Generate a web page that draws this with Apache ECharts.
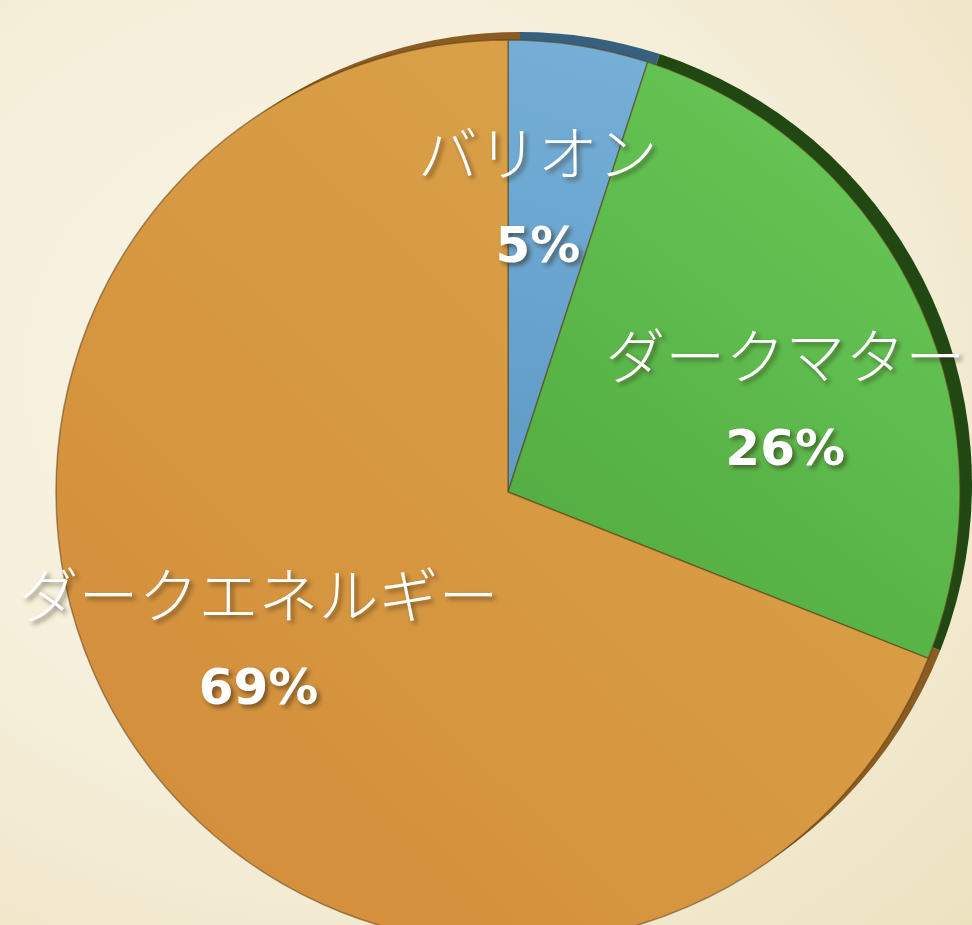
<!DOCTYPE html>
<html>
<head>
<meta charset="utf-8">
<script src="https://cdn.jsdelivr.net/npm/echarts@6/dist/echarts.min.js"></script>
<style>
  html, body { margin: 0; padding: 0; }
  body {
    width: 972px; height: 925px; overflow: hidden;
    background: radial-gradient(ellipse at 35% 40%, #faf5e6 0%, #f5eed9 55%, #ede2c0 100%);
  }
  #chart { width: 972px; height: 925px; }
</style>
</head>
<body>
<div id="chart"></div>
<script>
// Composition of the universe
const categories = ['バリオン', 'ダークマター', 'ダークエネルギー'];
const shares = [5, 26, 69];
const percentLabels = ['5%', '26%', '69%'];

// Painted face colours and the darker rim tone of each slice
const faceColors = [
  ['#76b0d9', '#5f9bc6'],
  ['#6acb5a', '#50a83e'],
  ['#dba74b', '#d38b39']
];
const rimColors = ['#36607e', '#214813', '#8a5c22'];
// Per-slice nudges of the label block from its default inside position
const labelShift = [[-6, -65], [70, 10], [-60, 22]];

const center = [508, 492];
const radius = 452;

function faceFill(i) {
  return {
    type: 'linear', x: 1, y: 0, x2: 0, y2: 1,
    colorStops: [
      { offset: 0, color: faceColors[i][0] },
      { offset: 1, color: faceColors[i][1] }
    ]
  };
}

const chart = echarts.init(document.getElementById('chart'), null, { renderer: 'canvas' });

const textShadow = {
  textShadowColor: 'rgba(40, 30, 10, 0.55)',
  textShadowBlur: 5,
  textShadowOffsetX: 3,
  textShadowOffsetY: 3
};

chart.setOption({
  backgroundColor: 'transparent',
  animation: false,
  series: [
    {
      // rim seen past the upper-right edge
      type: 'pie',
      silent: true,
      z: 1,
      center: [center[0] + 12, center[1] - 8],
      radius: radius,
      startAngle: 90,
      clockwise: true,
      label: { show: false },
      labelLine: { show: false },
      data: categories.map((name, i) => ({
        name: name,
        value: shares[i],
        itemStyle: { color: rimColors[i] }
      }))
    },
    {
      type: 'pie',
      silent: true,
      z: 2,
      center: center,
      radius: radius,
      startAngle: 90,
      clockwise: true,
      itemStyle: {
        borderColor: 'rgba(92, 62, 20, 0.55)',
        borderWidth: 1.5
      },
      label: Object.assign({
        show: true,
        position: 'inside',
        formatter: function (p) {
          return '{n|' + p.name + '}\n{p|' + percentLabels[p.dataIndex] + '}';
        },
        rich: {
          n: Object.assign({
            fontFamily: '"Noto Sans CJK JP", sans-serif',
            fontWeight: 300,
            fontSize: 60,
            lineHeight: 96,
            color: '#ffffff'
          }, textShadow),
          p: Object.assign({
            fontFamily: '"DejaVu Sans", sans-serif',
            fontWeight: 'bold',
            fontSize: 50,
            lineHeight: 96,
            color: '#ffffff'
          }, textShadow)
        }
      }, textShadow),
      labelLine: { show: false },
      labelLayout: function (params) {
        const s = labelShift[params.dataIndex];
        return { dx: s[0], dy: s[1] };
      },
      data: categories.map((name, i) => ({
        name: name,
        value: shares[i],
        itemStyle: { color: faceFill(i) }
      }))
    }
  ]
});
</script>
</body>
</html>
